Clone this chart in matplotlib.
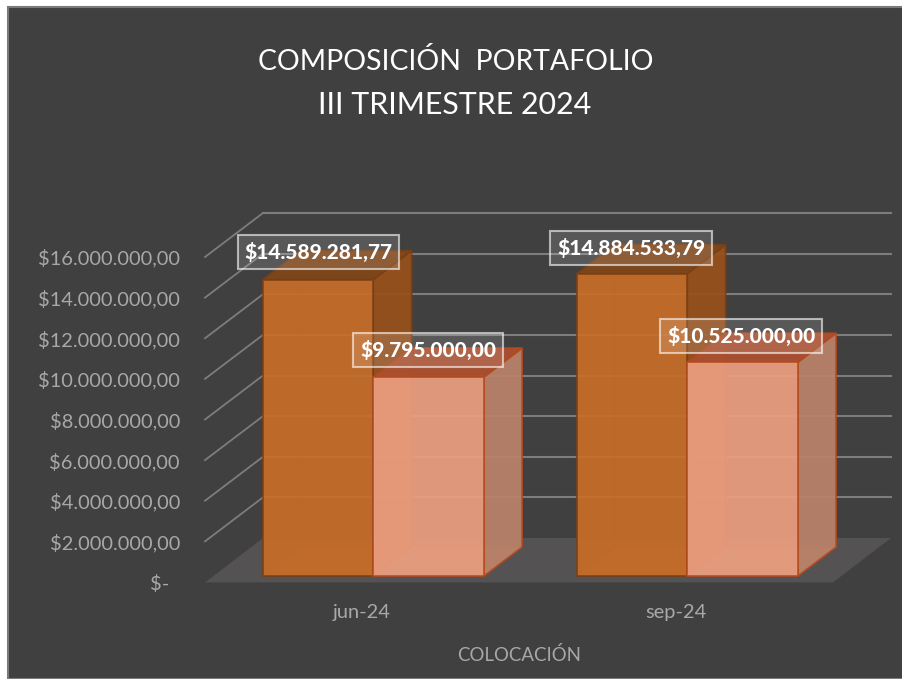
import matplotlib
matplotlib.use('Agg')
from matplotlib import pyplot as plt
from matplotlib.patches import Polygon, Rectangle

plt.rcParams['font.family'] = ['Lato', 'DejaVu Sans']

## values
categories = ['jun-24', 'sep-24']
serie_a = [14589281.77, 14884533.79]
serie_b = [9795000.00, 10525000.00]
labels_a = ['$14.589.281,77', '$14.884.533,79']
labels_b = ['$9.795.000,00', '$10.525.000,00']
y_ticks = [0, 2000000, 4000000, 6000000, 8000000, 10000000, 12000000, 14000000, 16000000]
y_labels = ['$-  ', '$2.000.000,00', '$4.000.000,00', '$6.000.000,00', '$8.000.000,00',
            '$10.000.000,00', '$12.000.000,00', '$14.000.000,00', '$16.000.000,00']
title_one = 'COMPOSICIÓN  PORTAFOLIO'
title_two = 'III TRIMESTRE 2024'
x_title = 'COLOCACIÓN'

## oblique depth of the 3d box, in data units
wall_dx = 58 / 314
wall_dy = 44 / 325 * 16000000
bar_width = 0.352
bar_start = 0.159
depth_front = 0.136
depth_back = 0.795

fig = plt.figure(figsize=(9.03, 6.79), dpi=100, facecolor='white')
fig.add_artist(Rectangle((8 / 903, 0), 895 / 903, 672 / 679, transform=fig.transFigure,
                         facecolor='#404040', edgecolor='#7a7a7a', linewidth=1.5, zorder=-1))

ax = fig.add_axes([205 / 903, 97 / 679, 628 / 903, 325 / 679])
ax.patch.set_alpha(0)
ax.set_xlim(0, 2)
ax.set_ylim(0, 16000000)
for side in ax.spines.values():
    side.set_visible(False)


def project(x, y, depth):
    return (x + wall_dx * depth, y + wall_dy * depth)


## floor
ax.add_patch(Polygon([(0, -20000), (2, -20000), project(2, 0, 1), project(0, 0, 1)],
                     facecolor='#545253', edgecolor='none', clip_on=False, zorder=1))

## gridlines, side wall then back wall
for v in y_ticks:
    if v == 0:
        continue
    ax.plot([0, wall_dx], [v, v + wall_dy], color='#7d7d7d', lw=1.3, clip_on=False, zorder=2)
    ax.plot([wall_dx, 2 + wall_dx], [v + wall_dy, v + wall_dy], color='#7d7d7d', lw=1.5,
            clip_on=False, zorder=2)


def draw_bar(x, value, front, side, top, inner, edge, zorder):
    x2 = x + bar_width
    f0 = depth_front
    b0 = depth_back
    faces = [
        ([project(x, 0, b0), project(x2, 0, b0), project(x2, value, b0), project(x, value, b0)], inner, 0.35),
        ([project(x, 0, f0), project(x, 0, b0), project(x, value, b0), project(x, value, f0)], inner, 0.35),
        ([project(x, 0, f0), project(x2, 0, f0), project(x2, 0, b0), project(x, 0, b0)], inner, 0.45),
        ([project(x2, 0, f0), project(x2, 0, b0), project(x2, value, b0), project(x2, value, f0)], side, 0.9),
        ([project(x, value, f0), project(x2, value, f0), project(x2, value, b0), project(x, value, b0)], top, 0.95),
        ([project(x, 0, f0), project(x2, 0, f0), project(x2, value, f0), project(x, value, f0)], front, 0.86),
    ]
    for i, (pts, color, alpha) in enumerate(faces):
        ax.add_patch(Polygon(pts, closed=True, facecolor=color, alpha=alpha, edgecolor='none',
                             clip_on=False, zorder=zorder + i * 0.01))
        ax.add_patch(Polygon(pts, closed=True, fill=False, edgecolor=edge, linewidth=1.2,
                             alpha=0.9 if i > 2 else 0.12, clip_on=False, zorder=zorder + i * 0.01))


def draw_label(x, value, text, dx, dy):
    ax.annotate(text, (x + bar_width / 2, value), xytext=(dx, dy), textcoords='offset points',
                ha='center', va='center', color='white', fontsize=15, fontweight=900,
                annotation_clip=False, zorder=20,
                bbox=dict(boxstyle='square,pad=0.33', facecolor=(1, 1, 1, 0.13),
                          edgecolor=(1, 1, 1, 0.6), linewidth=1.5))


## bars, back to front and left to right
for i in range(len(categories)):
    x = i + bar_start
    draw_bar(x, serie_a[i], '#CB6E28', '#96501C', '#7E4519', '#B8641F', '#7A3F14', 5 + i)
    draw_bar(x + bar_width, serie_b[i], '#EFA081', '#B98068', '#A84E2E', '#E8A888', '#B5491C', 5.5 + i)

## data labels
draw_label(0 + bar_start, serie_a[0], labels_a[0], 6, 24)
draw_label(0 + bar_start + bar_width, serie_b[0], labels_b[0], 5.5, 23.5)
draw_label(1 + bar_start, serie_a[1], labels_a[1], 5, 22.7)
draw_label(1 + bar_start + bar_width, serie_b[1], labels_b[1], 4.7, 23)

## axes text
ax.set_yticks(y_ticks)
ax.set_yticklabels(y_labels)
ax.set_xticks([0.5, 1.5])
ax.set_xticklabels(categories)
ax.tick_params(axis='y', length=0, pad=18, labelsize=14.4, labelcolor='#A8A8A8')
ax.tick_params(axis='x', length=0, pad=16, labelsize=14.4, labelcolor='#A8A8A8')
ax.set_xlabel(x_title, fontsize=13.4, color='#A8A8A8', labelpad=18)

fig.text(456 / 903, 1 - 62 / 679, title_one, ha='center', va='center', color='white', fontsize=20.4)
fig.text(455 / 903, 1 - 105 / 679, title_two, ha='center', va='center', color='white', fontsize=21.9)

fig.savefig('out.png', dpi=100, facecolor='white')
